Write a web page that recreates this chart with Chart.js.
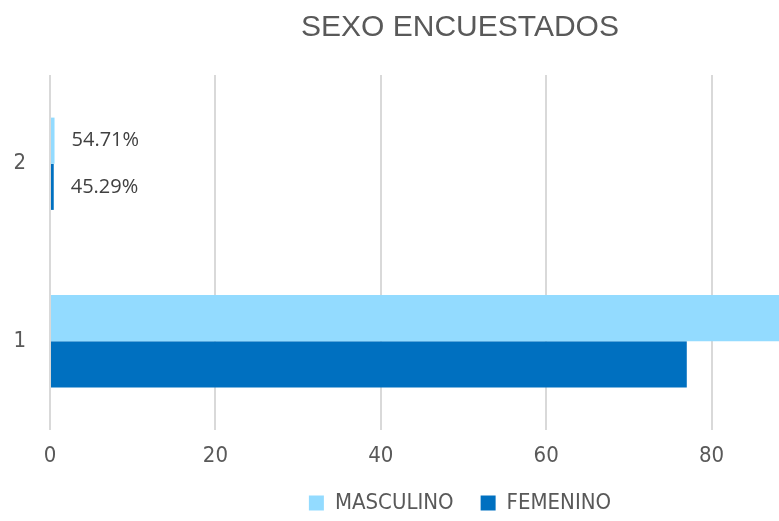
<!DOCTYPE html>
<html>
<head>
<meta charset="utf-8">
<script src="https://cdn.jsdelivr.net/npm/chart.js@4/dist/chart.umd.min.js"></script>
<style>
  html, body { margin: 0; padding: 0; background: #fff; overflow: hidden; }
  #wrap { width: 779px; height: 521px; overflow: hidden; position: relative; }
  #box { width: 920px; height: 524px; position: absolute; left: 0; top: 0; }
</style>
</head>
<body>
<div id="wrap"><div id="box"><canvas id="chart-sexo"></canvas></div></div>
<script>
// Datos
const categorias = ['2', '1'];
const masculino = [0.5471, 93];
const femenino = [0.4529, 77];
const etiquetasMasc = ['54.71%', ''];
const etiquetasFem = ['45.29%', ''];
const ticksX = [0, 20, 40, 60, 80, 100];

const narrow = "'Liberation Sans Narrow', 'DejaVu Sans Condensed', 'Roboto Condensed', sans-serif";

// etiquetas al final de las barras
const etiquetasPlugin = {
  id: 'etiquetas',
  afterDatasetsDraw(chart) {
    const ctx = chart.ctx;
    const textos = [etiquetasMasc, etiquetasFem];
    ctx.save();
    ctx.font = "20px 'Open Sans', sans-serif";
    ctx.fillStyle = '#404040';
    ctx.textBaseline = 'middle';
    chart.data.datasets.forEach((ds, i) => {
      chart.getDatasetMeta(i).data.forEach((bar, j) => {
        const t = textos[i][j];
        if (t) ctx.fillText(t, bar.x + 17, bar.y);
      });
    });
    ctx.restore();
  }
};

const config = {
  type: 'bar',
  data: {
    labels: categorias,
    datasets: [
      { label: 'MASCULINO', data: masculino, backgroundColor: '#93DBFF', categoryPercentage: 0.52, barPercentage: 1.0 },
      { label: 'FEMENINO', data: femenino, backgroundColor: '#0070C0', categoryPercentage: 0.52, barPercentage: 1.0 }
    ]
  },
  options: {
    indexAxis: 'y',
    responsive: true,
    maintainAspectRatio: false,
    animation: false,
    layout: { padding: 0 },
    scales: {
      x: {
        min: 0,
        max: 105.2,
        afterBuildTicks: (scale) => { scale.ticks = ticksX.map(v => ({ value: v })); },
        afterFit: (scale) => { scale.height = 35; },
        grid: { color: '#D9D9D9', lineWidth: 2, drawTicks: false },
        border: { display: false },
        ticks: { color: '#595959', font: { family: narrow, size: 22 }, padding: 13 }
      },
      y: {
        afterFit: (scale) => { scale.width = 50; },
        grid: { display: false },
        border: { display: false },
        ticks: { color: '#595959', font: { family: narrow, size: 22 }, padding: 16 }
      }
    },
    plugins: {
      tooltip: { enabled: false },
      title: {
        display: true,
        text: 'SEXO ENCUESTADOS',
        color: '#595959',
        font: { family: "'Liberation Sans', Arial, sans-serif", size: 30, weight: 'normal' },
        padding: { top: 10, bottom: 29 }
      },
      legend: {
        position: 'bottom',
        labels: {
          color: '#595959',
          font: { family: narrow, size: 22 },
          boxWidth: 15,
          boxHeight: 15,
          padding: 27
        }
      }
    }
  },
  plugins: [etiquetasPlugin]
};

const myChart = new Chart(document.getElementById('chart-sexo'), config);
</script>
</body>
</html>
